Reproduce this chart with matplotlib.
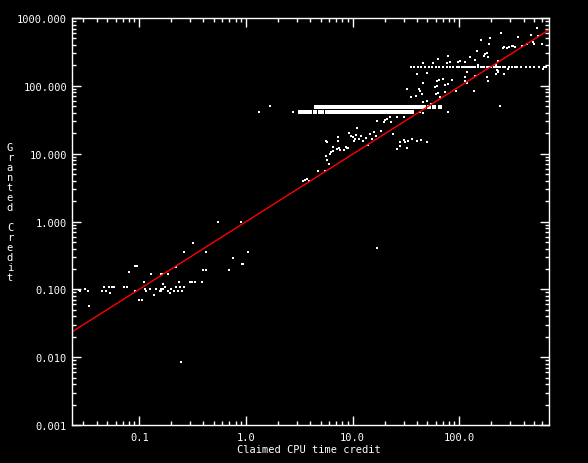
import matplotlib
matplotlib.use("Agg")
import matplotlib.pyplot as plt
from matplotlib.ticker import FixedLocator, FuncFormatter, NullFormatter

# scattered work units (claimed, granted)
low_x = [0.027, 0.028, 0.031, 0.033, 0.034, 0.045, 0.047, 0.049, 0.052, 0.055, 0.058, 0.053,
         0.072, 0.077, 0.092, 0.094, 0.096, 0.092, 0.100, 0.106, 0.111, 0.114, 0.116, 0.127,
         0.130, 0.138, 0.144, 0.157, 0.159, 0.160, 0.162, 0.160, 0.168, 0.168, 0.175, 0.187,
         0.187, 0.195, 0.200, 0.210, 0.220, 0.220, 0.230, 0.236, 0.240, 0.250, 0.260, 0.260,
         0.300, 0.310, 0.330, 0.320, 0.390, 0.400, 0.420, 0.420, 0.690, 0.760, 0.920, 0.940,
         1.05, 0.247, 0.548, 0.900, 0.080]
low_y = [0.098, 0.094, 0.100, 0.094, 0.056, 0.096, 0.110, 0.096, 0.110, 0.110, 0.110, 0.088,
         0.110, 0.110, 0.220, 0.220, 0.220, 0.096, 0.069, 0.069, 0.130, 0.100, 0.096, 0.100,
         0.170, 0.083, 0.100, 0.096, 0.096, 0.170, 0.170, 0.100, 0.120, 0.102, 0.110, 0.170,
         0.096, 0.088, 0.100, 0.096, 0.210, 0.110, 0.096, 0.130, 0.110, 0.096, 0.350, 0.110,
         0.130, 0.130, 0.130, 0.480, 0.130, 0.190, 0.190, 0.360, 0.190, 0.290, 0.240, 0.240,
         0.360, 0.0085, 0.980, 0.980, 0.180]

mid_x = [1.32, 1.68, 2.75, 3.41, 3.55, 3.7, 3.9, 4.7, 5.5, 5.6, 5.6, 5.8, 5.96, 6.1, 6.3, 6.5,
         5.7, 7.3, 7.3, 7.1, 7.4, 7.6, 8.6, 8.9, 6.5, 8.3, 8.6, 9.0, 9.2, 9.6, 10.0, 10.2, 10.6,
         10.8, 11.1, 11.4, 12.0, 12.5, 13.2, 14.0, 14.5, 15.2, 16.0, 16.5, 17.1, 18.3, 19.5, 20.0,
         21.0, 22.5, 23.0, 24.0, 26.0, 26.0, 28.0, 30.0, 30.0, 31.0, 33.0, 36.0, 40.0, 44.0, 50.0,
         39.0, 43.0, 46.0, 50.0, 54.0, 60.0, 63.0, 58.0, 66.0, 74.0, 79.0, 43.0, 46.0, 17.1,
         32.0, 35.0, 28.0]
mid_y = [41.0, 50.0, 41.0, 3.95, 4.1, 4.3, 4.0, 5.5, 5.5, 9.2, 15.3, 8.1, 7.0, 9.8, 10.5, 11.0,
         15.0, 17.5, 15.2, 11.7, 12.3, 11.5, 12.5, 12.0, 12.5, 11.5, 12.7, 12.0, 20.0, 18.0, 17.5,
         15.5, 16.5, 19.0, 23.9, 16.2, 18.0, 15.2, 17.0, 13.4, 19.5, 16.5, 21.0, 18.0, 30.0, 21.5,
         29.0, 31.0, 33.0, 35.0, 29.5, 19.5, 35.0, 11.7, 15.0, 34.6, 16.0, 15.0, 15.5, 16.5, 15.5,
         16.0, 15.0, 71.0, 84.0, 58.0, 60.0, 54.0, 76.0, 78.0, 49.0, 69.0, 81.0, 41.0, 41.0, 40.0,
         0.41, 12.0, 68.0, 13.0]

high_x = [175, 180, 170, 185, 220, 225, 230, 222, 228, 258, 262, 280, 295, 310, 335, 245, 195,
          188, 158, 147, 140, 126, 114, 117, 114, 98, 79, 77, 82, 63, 57, 46, 65, 62, 59, 62, 74,
          79, 86, 46, 42, 32, 40, 50, 71, 94, 114, 118, 138, 167, 180, 187, 225, 230, 240, 265,
          285, 320, 355, 390, 430, 495, 505, 540, 550, 610, 102, 45, 140, 150, 600, 470]
high_y = [296, 310, 280, 270, 150, 170, 230, 200, 165, 360, 370, 360, 380, 390, 370, 600, 510,
          415, 470, 325, 240, 265, 225, 160, 135, 225, 275, 218, 222, 250, 218, 218, 122, 118, 96,
          98, 103, 106, 122, 110, 90, 90, 150, 155, 126, 84, 118, 112, 84, 190, 135, 118, 190,
          160, 50, 150, 178, 387, 525, 387, 415, 440, 420, 710, 540, 180, 230, 75, 140, 205, 410, 560]

# horizontal runs of identical granted credit
band_hi_y = 49.5
band_hi_x = [4.5, 4.8, 5.3, 5.6, 6.0, 6.2, 6.6, 7.0, 7.3, 7.6, 8.0, 8.3, 8.6, 9.0, 9.3, 9.6, 10.0,
             10.5, 11.0, 11.5, 12.0, 12.5, 13.0, 13.5, 14.0, 14.5, 15.0, 15.5, 16.0, 16.5, 17.0,
             17.5, 18.0, 18.5, 19.0, 19.5, 20.0, 21.0, 22.0, 23.0, 24.0, 25.0, 26.0, 27.0, 28.0,
             29.0, 30.0, 31.0, 32.0, 33.0, 34.0, 35.0, 36.0, 37.0, 38.0, 39.0, 40.0, 41.0, 44.0,
             47.0, 52.0, 58.0, 66.0]
band_lo_y = 41.5
band_lo_x = [3.2, 3.3, 3.5, 3.6, 3.8, 4.0, 4.4, 4.9, 5.2, 5.7, 6.1, 6.5, 7.2, 7.5, 8.1, 8.6, 9.1,
             9.5, 10.0, 10.5, 11.0, 11.5, 12.0, 12.5, 13.0, 13.5, 14.0, 14.5, 15.0, 15.5, 16.0,
             16.5, 17.0, 17.5, 18.0, 18.5, 19.0, 19.5, 20.0, 21.0, 22.0, 23.0, 24.0, 25.0, 26.0,
             27.0, 28.0, 29.0, 30.0, 31.0, 32.0, 34.0, 36.0]
band_top_y = 187
band_top_x = [35, 38, 41, 44, 48, 52, 56, 60, 64, 70, 76, 82, 88, 95, 100, 105, 110, 115, 120,
              125, 130, 135, 140, 150, 160, 170, 180, 190, 200, 210, 220, 230, 240, 255, 270,
              290, 310, 330, 350, 380, 420, 460, 500, 560, 620, 650]

# log-log fit: granted = 10**b * claimed**m
fit_m = 0.996
fit_b = -0.003

x_range = (0.0234, 692)
y_range = (0.001, 1000)
x_major = [0.1, 1.0, 10.0, 100.0]
y_major = [0.001, 0.01, 0.1, 1.0, 10.0, 100.0, 1000.0]

plt.rcParams["font.family"] = ["DejaVu Sans Mono"]
fig = plt.figure(figsize=(5.88, 4.64), dpi=100, facecolor="black")
ax = fig.add_axes([0.1224, 0.0819, 0.8112, 0.8771], facecolor="black")

dot = dict(linestyle="none", marker="s", color="white", mew=0)
ax.plot(low_x, low_y, ms=1.6, **dot)
ax.plot(mid_x, mid_y, ms=1.6, **dot)
ax.plot(high_x, high_y, ms=1.6, **dot)
ax.plot(band_hi_x, [band_hi_y] * len(band_hi_x), ms=2.2, **dot)
ax.plot(band_lo_x, [band_lo_y] * len(band_lo_x), ms=2.2, **dot)
ax.plot(band_top_x, [band_top_y] * len(band_top_x), ms=1.6, **dot)

fx = list(x_range)
fy = [10 ** fit_b * v ** fit_m for v in fx]
ax.plot(fx, fy, color="red", lw=1.0)

ax.set_xscale("log")
ax.set_yscale("log")
ax.set_xlim(*x_range)
ax.set_ylim(*y_range)

x_minor = [m * d for d in (0.01, 0.1, 1, 10, 100) for m in range(2, 10)
           if x_range[0] < m * d < x_range[1]]
y_minor = [m * d for d in (0.001, 0.01, 0.1, 1, 10, 100) for m in range(2, 10)]
ax.xaxis.set_major_locator(FixedLocator(x_major))
ax.yaxis.set_major_locator(FixedLocator(y_major))
ax.xaxis.set_minor_locator(FixedLocator(x_minor))
ax.yaxis.set_minor_locator(FixedLocator(y_minor))
ax.xaxis.set_major_formatter(FuncFormatter(lambda v, p: "%.1f" % v))
ax.yaxis.set_major_formatter(FuncFormatter(lambda v, p: "%.3f" % v))
ax.xaxis.set_minor_formatter(NullFormatter())
ax.yaxis.set_minor_formatter(NullFormatter())

for s in ax.spines.values():
    s.set_color("white")
    s.set_linewidth(1.0)
ax.tick_params(which="both", direction="in", top=True, right=True, colors="white",
               width=1.0, labelsize=7.5)
ax.tick_params(which="major", length=6.2)
ax.tick_params(which="minor", length=3.0)
ax.tick_params(axis="x", which="major", pad=5)
ax.tick_params(axis="y", which="major", pad=3.5)

fig.text(0.526, 0.030, "Claimed CPU time credit", color="white", fontsize=7.5,
         ha="center", va="center")
fig.text(0.017, 0.542, "\n".join("Granted Credit"), color="white", fontsize=7.5,
         ha="center", va="center", linespacing=1.0)

fig.savefig("out.png", dpi=100, facecolor="black")
